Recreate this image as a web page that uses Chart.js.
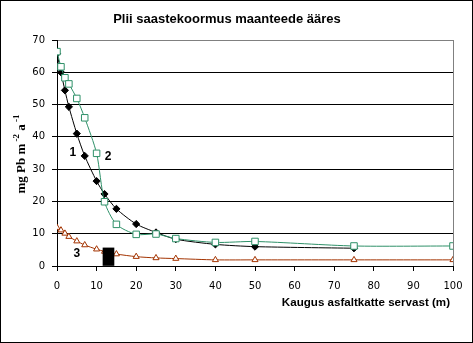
<!DOCTYPE html>
<html lang="et">
<head>
<meta charset="UTF-8" />
<title>Plii saastekoormus</title>
<script src="https://cdn.jsdelivr.net/npm/chart.js"></script>
<style>
  body { margin: 0; background: #fff; }
  .frame {
    width: 473px;
    height: 343px;
    box-sizing: border-box;
    border: 1px solid #000;
    background: #fff;
  }
  canvas { display: block; }
</style>
</head>
<body>
<div class="frame">
  <canvas id="pbChart" width="471" height="341"></canvas>
</div>
<script>
  // distance from the asphalt edge (m)
  const dist1 = [0, 1, 2, 3, 5, 7, 10, 12, 15, 20, 25, 30, 40, 50, 75];
  const load1 = [65.8, 60, 54.4, 49.3, 41, 34.1, 26.3, 22.3, 17.7, 13, 10.4, 8.3, 6.7, 6.0, 5.5];

  const dist2 = [0, 1, 2, 3, 5, 7, 10, 12, 15, 20, 25, 30, 40, 50, 75, 100];
  const load2 = [66.4, 61.7, 58.3, 56.4, 51.9, 45.9, 34.9, 19.9, 12.9, 9.8, 9.9, 8.5, 7.3, 7.6, 6.2, 6.2];

  const dist3 = [0, 1, 2, 3, 5, 7, 10, 12, 15, 20, 25, 30, 40, 50, 75, 100];
  const load3 = [11.9, 11.1, 10.1, 9.1, 7.7, 6.5, 5.2, 4.5, 3.7, 2.9, 2.5, 2.3, 1.9, 1.9, 1.9, 1.9];

  // road edge block
  const edgeX = [13];
  const edgeY = [5.6];

  // series number labels: [text, x, y]
  const seriesTags = [['1', 4.0, 35.1], ['2', 12.9, 33.9], ['3', 5.0, 3.9]];

  const pts = (xs, ys) => xs.map((x, i) => ({ x: x, y: ys[i] }));

  const tickFont = { family: 'DejaVu Sans', size: 10 };
  const tickVal = c => (c.tick ? c.tick.value : null);

  const textPlugin = {
    id: 'texts',
    afterDatasetsDraw(chart) {
      const ctx = chart.ctx;
      const sx = chart.scales.x, sy = chart.scales.y;
      ctx.save();
      ctx.fillStyle = '#000';

      // series numbers
      ctx.font = 'bold 12px "Liberation Sans", Arial, sans-serif';
      ctx.textAlign = 'center';
      ctx.textBaseline = 'middle';
      seriesTags.forEach(([t, x, y]) => {
        ctx.fillText(t, sx.getPixelForValue(x), sy.getPixelForValue(y));
      });

      // chart title
      ctx.font = 'bold 13px "Liberation Sans", Arial, sans-serif';
      ctx.fillText('Plii saastekoormus maanteede ääres', 226, 18.5);

      // x axis title
      ctx.font = 'bold 11.6px "Liberation Sans", Arial, sans-serif';
      ctx.textAlign = 'right';
      ctx.fillText('Kaugus asfaltkatte servast (m)', 449, 301.5);

      // y axis title with superscripts
      ctx.translate(21, 153);
      ctx.rotate(-Math.PI / 2);
      const parts = [
        ['mg Pb m', 'bold 13px "Liberation Serif", "Times New Roman", serif', 0],
        [' -2', 'bold 9px "Liberation Serif", "Times New Roman", serif', -5],
        [' a', 'bold 13px "Liberation Serif", "Times New Roman", serif', 0],
        [' -1', 'bold 9px "Liberation Serif", "Times New Roman", serif', -5]
      ];
      let w = 0;
      parts.forEach(([t, f]) => { ctx.font = f; w += ctx.measureText(t).width; });
      let cx = -w / 2;
      ctx.textAlign = 'left';
      ctx.textBaseline = 'middle';
      parts.forEach(([t, f, dy]) => {
        ctx.font = f;
        ctx.fillText(t, cx, dy);
        cx += ctx.measureText(t).width;
      });
      ctx.restore();
    }
  };

  new Chart(document.getElementById('pbChart'), {
    type: 'line',
    data: {
      datasets: [
        {
          type: 'bar',
          data: pts(edgeX, edgeY),
          backgroundColor: '#000',
          barThickness: 11
        },
        {
          data: pts(dist2, load2),
          borderColor: '#2e9068',
          borderWidth: 1,
          pointStyle: 'rect',
          pointRadius: 4.6,
          pointBorderWidth: 1,
          pointBackgroundColor: '#fff',
          pointBorderColor: '#2e9068',
          tension: 0.25
        },
        {
          data: pts(dist1, load1),
          borderColor: '#000',
          borderWidth: 1,
          pointStyle: 'rectRot',
          pointRadius: 3.6,
          pointBackgroundColor: '#000',
          pointBorderColor: '#000',
          tension: 0.25
        },
        {
          data: pts(dist3, load3),
          borderColor: '#a33300',
          borderWidth: 1,
          pointStyle: 'triangle',
          pointRadius: 3.5,
          pointBorderWidth: 1,
          pointBackgroundColor: '#fff',
          pointBorderColor: '#a33300',
          tension: 0.25
        }
      ]
    },
    options: {
      responsive: false,
      animation: false,
      layout: { padding: { left: 0, right: 19, top: 39, bottom: 0 } },
      plugins: { legend: { display: false }, tooltip: { enabled: false }, title: { display: false } },
      scales: {
        x: {
          type: 'linear',
          min: 0,
          max: 100,
          offset: false,
          afterFit: s => { s.height = 76; },
          ticks: { stepSize: 10, color: '#000', font: tickFont, padding: 9, maxRotation: 0 },
          border: { color: '#000', width: 1 },
          grid: {
            offset: false,
            color: c => tickVal(c) === 100 ? '#808080' : 'rgba(0,0,0,0)',
            tickColor: '#000',
            tickLength: 5,
            lineWidth: 1
          }
        },
        y: {
          min: 0,
          max: 70,
          afterFit: s => { s.width = 56; },
          ticks: { stepSize: 10, color: '#000', font: tickFont, padding: 7 },
          border: { color: '#000', width: 1 },
          grid: {
            color: c => tickVal(c) === 70 ? '#808080' : '#000',
            tickColor: '#000',
            tickLength: 5,
            lineWidth: 1
          }
        }
      }
    },
    plugins: [textPlugin]
  });
</script>
</body>
</html>
